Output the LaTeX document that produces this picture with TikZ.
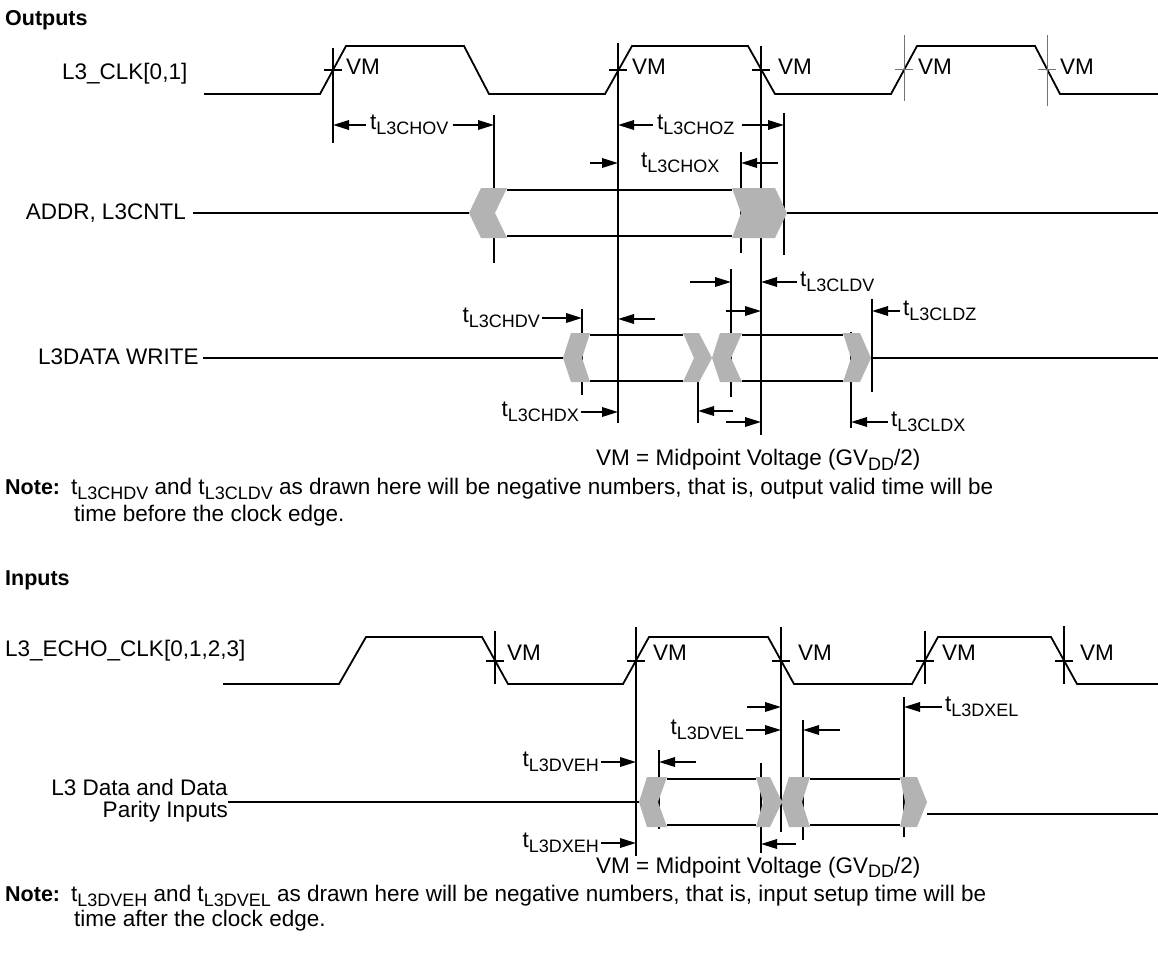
\documentclass[tikz,border=0pt]{standalone}
\usepackage{fontspec}
\setmainfont{Liberation Sans}
\usetikzlibrary{arrows.meta}
\definecolor{chev}{RGB}{179,179,179}
\newcommand\tsub[1]{t\raisebox{-5pt}{\fontsize{18}{18}\selectfont #1}}
\begin{document}
\begin{tikzpicture}[x=1pt,y=-1pt,
  every node/.style={inner sep=0pt, font=\fontsize{22.5}{26}\selectfont},
  ttl/.style={font=\fontsize{21.5}{25}\selectfont\bfseries},
  wave/.style={line width=1.8pt, line join=miter},
  tl/.style={line width=1.8pt},
  gl/.style={line width=1pt, draw=black!55},
  arr/.style={-{Triangle[length=16pt,width=9.5pt]}, line width=1.8pt},
  chv/.style={fill=chev, draw=none}]
\useasboundingbox (0,0) rectangle (1158,960);
\fill[white] (0,0) rectangle (1158,960);

% ================= OUTPUTS =================
\node[anchor=base west, ttl] (outt) at (5,26) {Outputs};
\node[anchor=west] (clk) at (62,74) {L3\_CLK[0,1]};
\node[anchor=east] (addr) at (186,213) {ADDR, L3CNTL};
\node[anchor=west] (l3dw) at (38,357) {L3DATA WRITE};

% clock
\draw[wave] (204,94) -- (320,94) -- (346,46) -- (464,46) -- (489,94) -- (605,94) -- (632,46) -- (748,46) -- (775,94) -- (891,94) -- (917,46) -- (1035,46) -- (1060,94) -- (1158,94);
\foreach \x in {333,618,761}{\draw[tl] (\x-9,70) -- (\x+9,70);}
\foreach \x in {904,1047}{\draw[gl] (\x-9,70) -- (\x+9,70);}
\draw[gl] (904,35) -- (904,101);
\draw[gl] (1047,35) -- (1047,106);
\foreach \x/\n in {346/vm1,632/vm2,778/vm3,918/vm4,1060/vm5}{\node[anchor=west] (\n) at (\x,67) {VM};}

% verticals
\foreach \n/\x/\a/\b in {oA/333/48/143, oB/494/115/263, oC/618/43/423, oD/761/46/435, oE/784/113/255, oF/741/152/253, oG/582/309/395, oH/698/333/423, oI/731/269/397, oJ/851/332/428, oK/872/299/392}{
  \coordinate (\n) at (\x,\a);
  \draw[tl] (\x,\a) -- (\x,\b);
}

% ADDR bus
\draw[tl] (193,213) -- (469,213);
\draw[tl] (507,190) -- (732,190);
\draw[tl] (507,236) -- (732,236);
\draw[tl] (787,213) -- (1158,213);
\fill[chv] (469,213) -- (481,188) -- (507,188) -- (495,213) -- (507,238) -- (481,238) -- cycle;
\fill[chv] (732,188) -- (775,188) -- (787,213) -- (775,238) -- (732,238) -- (741,213) -- cycle;

% L3DATA bus
\draw[tl] (203,358) -- (563,358);
\draw[tl] (590,335) -- (683,335);
\draw[tl] (590,381) -- (683,381);
\draw[tl] (742,335) -- (843,335);
\draw[tl] (742,381) -- (843,381);
\draw[tl] (871,358) -- (1158,358);
\fill[chv] (563,358) -- (571,333) -- (590,333) -- (582,358) -- (590,382) -- (571,382) -- cycle;
\fill[chv] (683,333) -- (699,333) -- (712,358) -- (699,382) -- (683,382) -- (694,358) -- cycle;
\fill[chv] (712,358) -- (720,333) -- (742,333) -- (731,358) -- (742,382) -- (720,382) -- cycle;
\fill[chv] (843,333) -- (860,333) -- (871,358) -- (860,382) -- (843,382) -- (851,358) -- cycle;

% timing labels and arrows
\node[anchor=west] (chov) at (370,125) {\tsub{L3CHOV}};
\draw[arr] ([xshift=-4pt]chov.west) -- (oA |- chov.west);
\draw[arr] ([xshift=4pt]chov.east) -- (oB |- chov.east);

\node[anchor=west] (choz) at (657,125) {\tsub{L3CHOZ}};
\draw[arr] ([xshift=-4pt]choz.west) -- (oC |- choz.west);
\draw[arr] ([xshift=7pt]choz.east) -- (oE |- choz.east);

\node[anchor=west] (chox) at (641,163) {\tsub{L3CHOX}};
\coordinate (s1) at (590,163);
\coordinate (s2) at (778,163);
\draw[arr] (s1) -- (oC |- s1);
\draw[arr] (s2) -- (oF |- s2);

\node[anchor=west] (cldv) at (800,282) {\tsub{L3CLDV}};
\coordinate (s3) at (690,282);
\draw[arr] (s3) -- (oI |- s3);
\draw[arr] ([xshift=-3pt]cldv.west) -- (oD |- cldv.west);

\node[anchor=west] (cldz) at (903,311) {\tsub{L3CLDZ}};
\coordinate (s4) at (726,311);
\draw[arr] (s4) -- (oD |- s4);
\draw[arr] ([xshift=-3pt]cldz.west) -- (oK |- cldz.west);

\node[anchor=east] (chdv) at (540,318) {\tsub{L3CHDV}};
\draw[arr] ([xshift=2pt]chdv.east) -- (oG |- chdv.east);
\coordinate (s5) at (655,319);
\draw[arr] (s5) -- (oC |- s5);

\node[anchor=east] (chdx) at (579,412) {\tsub{L3CHDX}};
\draw[arr] ([xshift=2pt]chdx.east) -- (oC |- chdx.east);
\coordinate (s6) at (733,411);
\draw[arr] (s6) -- (oH |- s6);

\coordinate (s7) at (726,422);
\draw[arr] (s7) -- (oD |- s7);
\node[anchor=west] (cldx) at (891,422) {\tsub{L3CLDX}};
\draw[arr] ([xshift=-3pt]cldx.west) -- (oJ |- cldx.west);

\node[anchor=base west] (vmn1) at (596,465) {VM = Midpoint Voltage (GV\raisebox{-5pt}{\fontsize{18}{18}\selectfont DD}/2)};

\node[anchor=base west, ttl] (note1) at (5,494) {Note:};
\node[anchor=base west] (note1a) at (71,494) {\tsub{L3CHDV} and \tsub{L3CLDV} as drawn here will be negative numbers, that is, output valid time will be};
\node[anchor=base west] (note1b) at (74,521) {time before the clock edge.};

% ================= INPUTS =================
\node[anchor=base west, ttl] (inpt) at (5,585) {Inputs};
\node[anchor=west] (eclk) at (5,651) {L3\_ECHO\_CLK[0,1,2,3]};
\node[anchor=east] (din1) at (228,787) {L3 Data and Data};
\node[anchor=east] (din2) at (228,812) {Parity Inputs};

\draw[wave] (223,684) -- (339,684) -- (366,637) -- (482,637) -- (508,684) -- (623,684) -- (649,637) -- (768,637) -- (794,684) -- (912,684) -- (938,637) -- (1051,637) -- (1077,684) -- (1158,684);
\foreach \x in {495,636,781,925,1064}{\draw[tl] (\x-9,661) -- (\x+9,661);}
\foreach \x/\n in {507/vi1,653/vi2,798/vi3,942/vi4,1080/vi5}{\node[anchor=west] (\n) at (\x,653) {VM};}

\foreach \n/\x/\a/\b in {iA/495/631/684, iB/636/627/856, iC/781/627/832, iD/925/631/684, iE/1064/626/684, iF/904/697/837, iG/803/720/840, iH/659/750/829, iI/761/763/853}{
  \coordinate (\n) at (\x,\a);
  \draw[tl] (\x,\a) -- (\x,\b);
}

\draw[tl] (228,802) -- (639,802);
\draw[tl] (667,779) -- (756,779);
\draw[tl] (667,825) -- (756,825);
\draw[tl] (810,779) -- (900,779);
\draw[tl] (810,825) -- (900,825);
\draw[tl] (927,814) -- (1158,814);
\fill[chv] (639,802) -- (647,777) -- (667,777) -- (658,802) -- (667,827) -- (647,827) -- cycle;
\fill[chv] (756,777) -- (770,777) -- (782,802) -- (770,827) -- (756,827) -- (763,802) -- cycle;
\fill[chv] (781,802) -- (789,777) -- (810,777) -- (802,802) -- (810,827) -- (789,827) -- cycle;
\fill[chv] (900,777) -- (917,777) -- (927,802) -- (917,827) -- (900,827) -- (905,802) -- cycle;

\coordinate (u1) at (747,707);
\draw[arr] (u1) -- (iC |- u1);
\node[anchor=west] (dxel) at (945,707) {\tsub{L3DXEL}};
\draw[arr] ([xshift=-3pt]dxel.west) -- (iF |- dxel.west);

\node[anchor=east] (dvel) at (744,730) {\tsub{L3DVEL}};
\draw[arr] ([xshift=2pt]dvel.east) -- (iC |- dvel.east);
\coordinate (u2) at (840,730);
\draw[arr] (u2) -- (iG |- u2);

\node[anchor=east] (dveh) at (599,762) {\tsub{L3DVEH}};
\draw[arr] ([xshift=2pt]dveh.east) -- (iB |- dveh.east);
\coordinate (u3) at (696,762);
\draw[arr] (u3) -- (iH |- u3);

\node[anchor=east] (dxeh) at (599,843) {\tsub{L3DXEH}};
\draw[arr] ([xshift=2pt]dxeh.east) -- (iB |- dxeh.east);
\coordinate (u4) at (796,844);
\draw[arr] (u4) -- (iI |- u4);

\node[anchor=base west] (vmn2) at (596,873) {VM = Midpoint Voltage (GV\raisebox{-4pt}{\fontsize{18}{18}\selectfont DD}/2)};

\node[anchor=base west, ttl] (note2) at (5,901) {Note:};
\node[anchor=base west] (note2a) at (71,901) {\tsub{L3DVEH} and \tsub{L3DVEL} as drawn here will be negative numbers, that is, input setup time will be};
\node[anchor=base west] (note2b) at (74,926) {time after the clock edge.};
\end{tikzpicture}
\end{document}
